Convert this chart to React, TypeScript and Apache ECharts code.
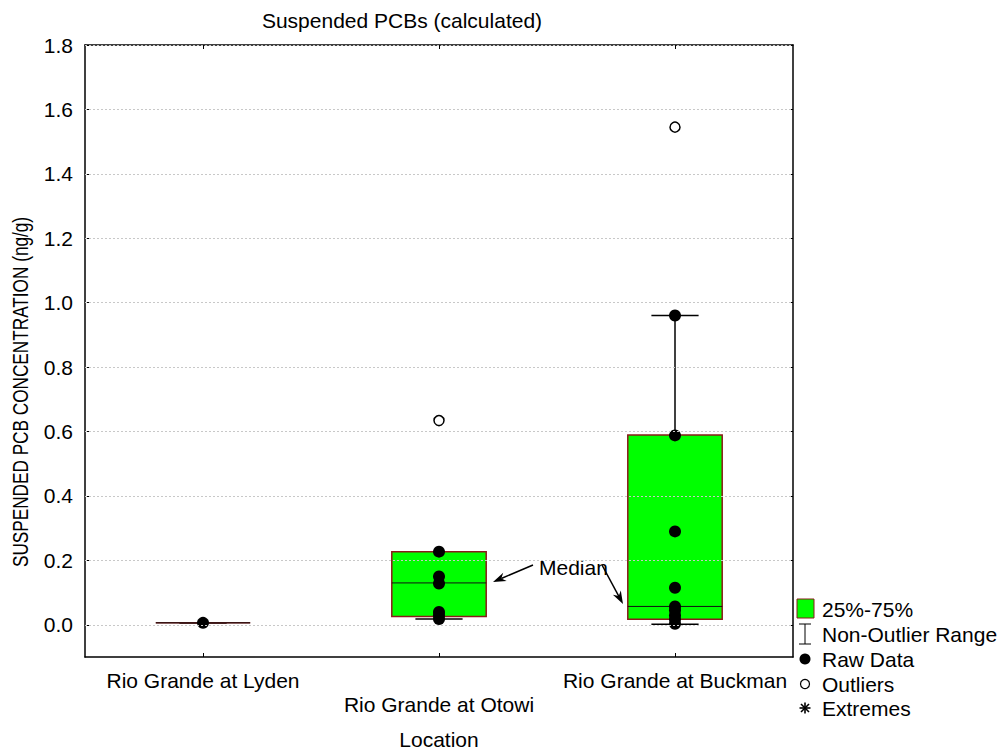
import React, { useEffect, useRef } from 'react';
import * as echarts from 'echarts';

const categories = ['Rio Grande at Lyden', 'Rio Grande at Otowi', 'Rio Grande at Buckman'];
// non-outlier stats: [min, q1, median, q3, max]
const boxStats = [
  [0.006, 0.006, 0.006, 0.006, 0.006],
  [0.018, 0.026, 0.13, 0.227, 0.227],
  [0.002, 0.017, 0.057, 0.589, 0.96],
];
const rawData = [
  [0.006],
  [0.227, 0.15, 0.128, 0.04, 0.03, 0.018],
  [0.96, 0.588, 0.29, 0.115, 0.057, 0.045, 0.03, 0.017, 0.003],
];
const outlierData = [[], [0.634], [1.545]];
const yTicks = [0, 0.2, 0.4, 0.6, 0.8, 1.0, 1.2, 1.4, 1.6, 1.8];
const legendNames = ['25%-75%', 'Non-Outlier Range', 'Raw Data', 'Outliers', 'Extremes'];

const FONT = 'Liberation Sans, Arial, sans-serif';
const FS = 21;

function arrow(x1: number, y1: number, x2: number, y2: number) {
  const ang = Math.atan2(y2 - y1, x2 - x1);
  const L = 13, H = 4.5;
  const bx = x2 - L * Math.cos(ang), by = y2 - L * Math.sin(ang);
  const px = -Math.sin(ang) * H, py = Math.cos(ang) * H;
  const nx = x2 - (L - 4) * Math.cos(ang), ny = y2 - (L - 4) * Math.sin(ang);
  return [
    { type: 'line', shape: { x1, y1, x2: nx, y2: ny }, style: { stroke: '#000', lineWidth: 1.5 } },
    { type: 'polygon', shape: { points: [[x2, y2], [bx + px, by + py], [nx, ny], [bx - px, by - py]] }, style: { fill: '#000' } },
  ];
}

export default function App() {
  const ref = useRef<HTMLDivElement>(null);
  useEffect(() => {
    if (!ref.current) return;
    const chart = echarts.init(ref.current, null, { renderer: 'svg' });

    const boxSeriesData = boxStats.map((s, i) => [i, ...s]);
    const rawSeriesData: number[][] = [];
    rawData.forEach((arr, i) => arr.forEach((v) => rawSeriesData.push([i, v])));
    const outSeriesData: number[][] = [];
    outlierData.forEach((arr, i) => arr.forEach((v) => outSeriesData.push([i, v])));

    const axisLineStyle = { color: '#000', width: 1.5 };
    const lx = 805;
    const ly = [609, 634, 659, 684, 708];

    const legendGraphics: any[] = [
      { type: 'rect', shape: { x: 797, y: ly[0] - 10, width: 17, height: 19 }, style: { fill: '#00ff00', stroke: '#8b1a1a', lineWidth: 1 } },
      { type: 'line', shape: { x1: lx, y1: ly[1] - 10, x2: lx, y2: ly[1] + 10 }, style: { stroke: '#000', lineWidth: 1 } },
      { type: 'line', shape: { x1: lx - 6, y1: ly[1] - 10, x2: lx + 6, y2: ly[1] - 10 }, style: { stroke: '#000', lineWidth: 1 } },
      { type: 'line', shape: { x1: lx - 6, y1: ly[1] + 10, x2: lx + 6, y2: ly[1] + 10 }, style: { stroke: '#000', lineWidth: 1 } },
      { type: 'circle', shape: { cx: lx, cy: ly[2], r: 5.5 }, style: { fill: '#000' } },
      { type: 'circle', shape: { cx: lx, cy: ly[3], r: 4.5 }, style: { fill: '#fff', stroke: '#000', lineWidth: 1.2 } },
      { type: 'line', shape: { x1: lx, y1: ly[4] - 5.5, x2: lx, y2: ly[4] + 5.5 }, style: { stroke: '#000', lineWidth: 1.6 } },
      { type: 'line', shape: { x1: lx - 5.5, y1: ly[4], x2: lx + 5.5, y2: ly[4] }, style: { stroke: '#000', lineWidth: 1.6 } },
      { type: 'line', shape: { x1: lx - 4, y1: ly[4] - 4, x2: lx + 4, y2: ly[4] + 4 }, style: { stroke: '#000', lineWidth: 1.6 } },
      { type: 'line', shape: { x1: lx - 4, y1: ly[4] + 4, x2: lx + 4, y2: ly[4] - 4 }, style: { stroke: '#000', lineWidth: 1.6 } },
      ...legendNames.map((n, i) => ({
        type: 'text', x: 822, y: ly[i],
        style: { text: n, fill: '#000', font: `${FS}px ${FONT}`, textAlign: 'left', textVerticalAlign: 'middle' },
      })),
    ];

    const option: any = {
      animation: false,
      backgroundColor: '#fff',
      textStyle: { fontFamily: FONT },
      grid: { left: 85, right: 211, top: 45, bottom: 93, containLabel: false, outerBoundsMode: 'none' },
      xAxis: [
        {
          type: 'category', data: categories, position: 'bottom', boundaryGap: true,
          axisLine: { show: true, onZero: false, lineStyle: axisLineStyle },
          axisTick: { show: true, inside: true, alignWithLabel: true, length: 4, lineStyle: { color: '#000' } },
          axisLabel: {
            show: true, color: '#000', fontSize: FS, fontFamily: FONT, margin: 11, lineHeight: 24, interval: 0,
            formatter: (v: string, i: number) => (i % 2 === 1 ? '\n' + v : v),
          },
          name: 'Location', nameLocation: 'middle', nameGap: 72,
          nameTextStyle: { color: '#000', fontSize: FS, fontFamily: FONT },
          splitLine: { show: false },
        },
        {
          type: 'category', data: categories, position: 'top', boundaryGap: true,
          axisLine: { show: true, onZero: false, lineStyle: axisLineStyle },
          axisTick: { show: true, inside: true, alignWithLabel: true, length: 4, lineStyle: { color: '#000' } },
          axisLabel: { show: false },
          splitLine: { show: false },
        },
      ],
      yAxis: [
        {
          type: 'value', min: -0.1, max: 1.8, position: 'left',
          axisLine: { show: true, onZero: false, lineStyle: axisLineStyle },
          axisTick: { show: true, inside: true, length: 4, customValues: yTicks, lineStyle: { color: '#000' } },
          axisLabel: {
            show: true, color: '#000', fontSize: FS, fontFamily: FONT, margin: 12, customValues: yTicks,
            formatter: (v: number) => v.toFixed(1),
          },
          splitLine: { show: false },
        },
        {
          type: 'value', min: -0.1, max: 1.8, position: 'right',
          axisLine: { show: true, onZero: false, lineStyle: axisLineStyle },
          axisTick: { show: true, inside: true, length: 4, customValues: yTicks, lineStyle: { color: '#000' } },
          axisLabel: { show: false, customValues: yTicks },
          splitLine: { show: false },
        },
      ],
      graphic: [
        {
          type: 'text', x: 402, y: 20,
          style: { text: 'Suspended PCBs (calculated)', fill: '#000', font: `${FS}px ${FONT}`, textAlign: 'center', textVerticalAlign: 'middle' },
        },
        {
          type: 'text', x: 20, y: 392, rotation: Math.PI / 2, scaleX: 0.8,
          style: { text: 'SUSPENDED PCB CONCENTRATION (ng/g)', fill: '#000', font: `${FS + 0.5}px ${FONT}`, textAlign: 'center', textVerticalAlign: 'middle' },
        },
        {
          type: 'text', x: 539, y: 567,
          style: { text: 'Median', fill: '#000', font: `${FS}px ${FONT}`, textAlign: 'left', textVerticalAlign: 'middle' },
        },
        ...arrow(533, 565, 493, 582),
        ...arrow(602, 565, 623, 604),
        ...legendGraphics,
      ],
      series: [
        {
          name: 'grid', type: 'line', data: [], xAxisIndex: 0, yAxisIndex: 0, z: 0, silent: true,
          markLine: {
            silent: true, symbol: ['none', 'none'], label: { show: false },
            lineStyle: { color: '#c8c8c8', type: [2, 2], width: 1 },
            data: yTicks.map((v) => ({ yAxis: v })),
          },
        },
        {
          name: 'Non-Outlier Range', type: 'custom', xAxisIndex: 0, yAxisIndex: 0, z: 2,
          data: boxSeriesData, encode: { x: 0, y: [1, 2, 3, 4, 5] },
          renderItem: (params: any, api: any) => {
            const idx = api.value(0);
            const pMin = api.coord([idx, api.value(1)]);
            const pMax = api.coord([idx, api.value(5)]);
            const band = api.size([1, 0])[0];
            const cw = band * 0.2;
            const x = pMin[0];
            return {
              type: 'group',
              children: [
                { type: 'line', shape: { x1: x, y1: pMin[1], x2: x, y2: pMax[1] }, style: { stroke: '#000', lineWidth: 1.5 } },
                { type: 'line', shape: { x1: x - cw / 2, y1: pMin[1], x2: x + cw / 2, y2: pMin[1] }, style: { stroke: '#000', lineWidth: 1.5 } },
                { type: 'line', shape: { x1: x - cw / 2, y1: pMax[1], x2: x + cw / 2, y2: pMax[1] }, style: { stroke: '#000', lineWidth: 1.5 } },
              ],
            };
          },
        },
        {
          name: '25%-75%', type: 'custom', xAxisIndex: 0, yAxisIndex: 0, z: 3,
          data: boxSeriesData, encode: { x: 0, y: [1, 2, 3, 4, 5] },
          renderItem: (params: any, api: any) => {
            const idx = api.value(0);
            const pQ1 = api.coord([idx, api.value(2)]);
            const pMed = api.coord([idx, api.value(3)]);
            const pQ3 = api.coord([idx, api.value(4)]);
            const band = api.size([1, 0])[0];
            const w = band * 0.4;
            const x = pQ1[0] - w / 2;
            return {
              type: 'group',
              children: [
                { type: 'rect', shape: { x, y: pQ3[1], width: w, height: pQ1[1] - pQ3[1] }, style: { fill: '#00ff00', stroke: '#8b1a1a', lineWidth: 1.5 } },
                { type: 'line', shape: { x1: x, y1: pMed[1], x2: x + w, y2: pMed[1] }, style: { stroke: '#111', lineWidth: 1 } },
              ],
            };
          },
        },
        {
          name: 'Raw Data', type: 'scatter', xAxisIndex: 0, yAxisIndex: 0, z: 4,
          data: rawSeriesData, symbol: 'circle', symbolSize: 12,
          itemStyle: { color: '#000', opacity: 1 },
        },
        {
          name: 'Outliers', type: 'scatter', xAxisIndex: 0, yAxisIndex: 0, z: 4,
          data: outSeriesData, symbol: 'circle', symbolSize: 10,
          itemStyle: { color: '#fff', borderColor: '#000', borderWidth: 1.5, opacity: 1 },
        },
        {
          name: 'Extremes', type: 'scatter', xAxisIndex: 0, yAxisIndex: 0, z: 4,
          data: [], symbol: 'circle', symbolSize: 10, itemStyle: { color: '#000', opacity: 1 },
        },
      ],
    };

    chart.setOption(option);
    return () => chart.dispose();
  }, []);

  return <div ref={ref} style={{ position: 'fixed', left: 0, top: 0, width: 1004, height: 750 }} />;
}
